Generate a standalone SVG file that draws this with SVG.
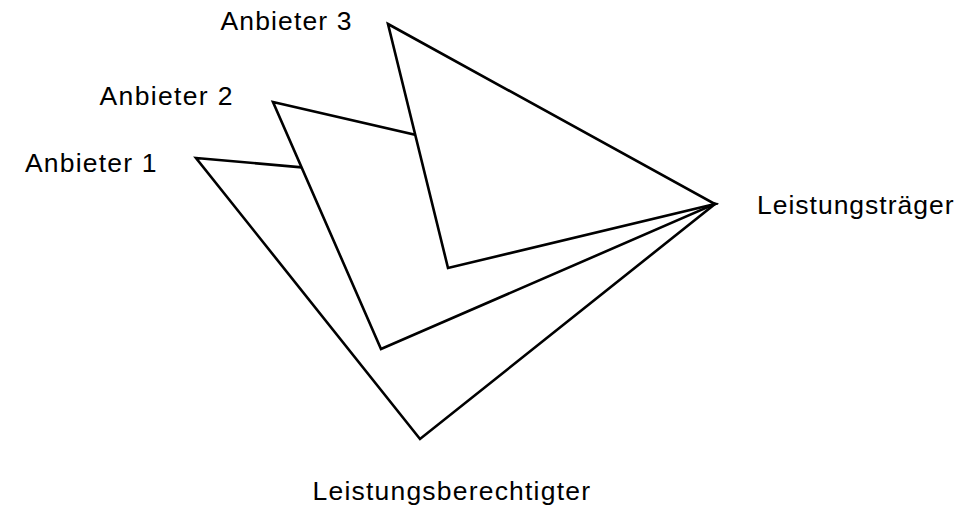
<svg xmlns="http://www.w3.org/2000/svg" width="980" height="506" viewBox="0 0 980 506">
<style>
.tri{fill:#fff;stroke:#000;stroke-width:2.6;stroke-linejoin:miter;stroke-miterlimit:20}
.lbl{font-family:"Liberation Sans",Arial,sans-serif;font-size:26.5px;fill:#000}
</style>
<rect width="980" height="506" fill="#fff"/>
<g id="connectors">
<polygon id="tri1" class="tri" points="196,158 715,204 420,439"/>
<polygon id="tri2" class="tri" points="273,102 715,204 381,349"/>
<polygon id="tri3" class="tri" points="388,24 715,204 448,268"/>
</g>
<g id="anbieter3"><text class="lbl" x="220.5" y="29.5" textLength="131" lengthAdjust="spacing">Anbieter 3</text></g>
<g id="anbieter2"><text class="lbl" x="99.5" y="105" textLength="133" lengthAdjust="spacing">Anbieter 2</text></g>
<g id="anbieter1"><text class="lbl" x="25" y="171.5" textLength="131.5" lengthAdjust="spacing">Anbieter 1</text></g>
<g id="leistungstraeger"><text class="lbl" x="757" y="213.5" textLength="196.5" lengthAdjust="spacing">Leistungsträger</text></g>
<g id="leistungsberechtigter"><text class="lbl" x="312.5" y="499.5" textLength="277.5" lengthAdjust="spacing">Leistungsberechtigter</text></g>
</svg>
